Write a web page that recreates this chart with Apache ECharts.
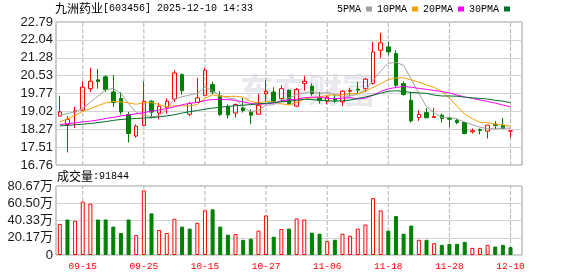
<!DOCTYPE html>
<html><head><meta charset="utf-8">
<script src="https://cdn.jsdelivr.net/npm/echarts@6/dist/echarts.min.js"></script>
<style>html,body{margin:0;padding:0;background:#fff}#c{width:578px;height:276px}</style>
</head><body><div id="c"></div>
<script>
const dates = ['09-10','09-11','09-12','09-15','09-16','09-17','09-18','09-19','09-22','09-23',
  '09-24','09-25','09-26','09-29','09-30','10-09','10-10','10-13','10-14','10-15',
  '10-16','10-17','10-20','10-21','10-22','10-23','10-24','10-27','10-28','10-29',
  '10-30','10-31','11-03','11-04','11-05','11-06','11-07','11-10','11-11','11-12',
  '11-13','11-14','11-17','11-18','11-19','11-20','11-21','11-24','11-25','11-26',
  '11-27','11-28','12-01','12-02','12-03','12-04','12-05','12-08','12-09','12-10'];
const opens = [18.82,18.47,19.00,19.07,19.98,20.35,20.48,19.84,19.56,18.89,
  17.98,18.43,19.45,18.95,19.17,19.54,20.57,18.90,19.40,19.70,
  20.15,19.68,19.21,18.95,19.17,19.00,18.90,19.76,19.84,19.56,
  19.91,19.24,20.20,20.08,19.59,19.45,19.54,19.42,19.87,19.96,
  19.98,20.20,21.60,21.74,21.46,20.19,19.49,18.76,18.97,18.76,
  18.86,18.72,18.64,18.55,18.16,18.25,18.19,18.47,18.44,18.19];
const closes = [19.00,18.69,19.04,20.04,20.29,20.28,19.94,19.40,19.00,18.09,
  18.40,19.45,18.99,19.24,19.45,20.64,19.89,19.35,19.59,20.76,
  19.84,18.89,18.87,19.31,19.06,18.86,19.28,19.87,19.45,19.98,
  19.35,19.94,20.29,19.77,19.48,19.62,19.49,19.87,19.90,19.92,
  20.38,21.53,21.91,21.53,20.12,19.73,18.62,18.90,18.75,18.81,
  18.72,18.69,18.55,18.09,18.21,18.22,18.44,18.43,18.30,18.20];
const lows = [18.82,17.29,18.33,19.05,19.84,19.98,19.84,19.21,18.89,17.71,
  17.92,18.40,18.72,18.68,18.93,19.42,19.73,18.82,19.40,19.68,
  19.73,18.83,18.72,18.76,18.97,18.48,18.90,19.45,19.38,19.42,
  19.31,19.20,19.89,19.68,19.35,19.32,19.38,19.24,19.68,19.77,
  19.84,20.15,21.27,21.39,20.05,19.68,18.55,18.62,18.75,18.76,
  18.55,18.37,18.48,18.05,18.09,18.05,17.88,18.27,18.27,17.92];
const highs = [19.68,18.82,19.21,20.29,20.85,20.81,20.55,20.55,19.84,19.00,
  18.47,20.29,19.49,19.38,19.56,20.76,20.62,19.42,20.43,20.85,
  20.27,19.87,19.31,19.35,19.59,19.11,19.75,20.33,20.04,20.12,
  19.94,20.01,20.52,20.20,19.84,19.68,19.73,19.91,20.01,20.26,
  20.43,21.95,22.33,21.95,21.60,20.29,19.84,19.07,19.17,19.17,
  18.93,18.79,18.72,18.58,18.30,18.30,18.44,18.62,18.75,18.20];
const volumes = [363800,415200,399400,624700,601000,415200,415200,332100,257000,415200,
  233300,755200,486300,292600,257000,423100,332100,308400,375600,521900,
  533800,332100,237200,245100,177900,189800,284700,462600,213500,304500,
  308400,427000,415200,261000,249100,162100,177900,249100,225400,308400,
  355900,664300,521900,284700,454700,249100,344000,177900,177900,138400,
  118600,130500,130500,154200,83000,83000,118600,98900,118600,91844];
const ma5 = [18.86,18.93,19.00,19.15,19.41,19.67,19.92,19.99,19.78,19.34,
  18.97,18.87,18.79,18.83,19.11,19.55,19.64,19.71,19.78,20.05,
  19.89,19.69,19.59,19.54,19.20,19.00,19.08,19.28,19.30,19.49,
  19.59,19.72,19.80,19.87,19.77,19.82,19.73,19.65,19.67,19.76,
  19.91,20.32,20.73,21.05,21.09,20.96,20.38,19.78,19.22,18.96,
  18.76,18.77,18.70,18.57,18.46,18.35,18.30,18.28,18.32,18.31];
const ma10 = [18.58,18.70,18.85,19.02,19.14,19.26,19.38,19.44,19.42,19.38,
  19.32,19.39,19.39,19.31,19.22,19.26,19.26,19.25,19.31,19.58,
  19.72,19.66,19.65,19.66,19.62,19.44,19.38,19.44,19.42,19.34,
  19.29,19.40,19.54,19.59,19.63,19.70,19.72,19.72,19.77,19.76,
  19.87,20.03,20.19,20.36,20.43,20.44,20.35,20.25,20.14,20.03,
  19.86,19.58,19.24,18.90,18.71,18.56,18.54,18.49,18.45,18.39];
const ma20 = [18.47,18.50,18.54,18.58,18.61,18.66,18.72,18.77,18.83,18.87,
  18.92,18.97,19.03,19.08,19.14,19.21,19.30,19.36,19.40,19.48,
  19.52,19.53,19.52,19.48,19.42,19.35,19.32,19.34,19.37,19.46,
  19.51,19.53,19.60,19.62,19.62,19.57,19.55,19.58,19.60,19.55,
  19.58,19.71,19.86,19.97,20.03,20.07,20.04,19.99,19.95,19.90,
  19.86,19.80,19.71,19.63,19.57,19.50,19.44,19.37,19.29,19.21];
const ma30 = [18.41,18.43,18.46,18.48,18.51,18.55,18.59,18.64,18.68,18.70,
  18.72,18.74,18.76,18.79,18.83,18.88,18.95,19.01,19.06,19.11,
  19.16,19.20,19.23,19.26,19.28,19.31,19.34,19.36,19.39,19.43,
  19.44,19.49,19.53,19.52,19.49,19.47,19.45,19.47,19.50,19.56,
  19.63,19.70,19.79,19.87,19.89,19.86,19.82,19.80,19.78,19.71,
  19.67,19.67,19.66,19.62,19.59,19.57,19.54,19.49,19.45,19.39];
const priceTicks = [16.76,17.51,18.27,19.02,19.77,20.53,21.28,22.04,22.79];
const volTicks = [0,201675,403350,605025,806700];
const volTickLabels = ['0','20.17万','40.33万','60.50万','80.67万'];
const dateTickLabels = ['09-15','09-25','10-15','10-27','11-06','11-18','11-28','12-10'];
const maNames = ['5PMA','10PMA','20PMA','30PMA'];

const RED = '#ff0000', GREEN = '#008000';
const isDateTick = (idx, val) => dateTickLabels.indexOf(val !== undefined && val !== null ? val : dates[idx]) >= 0;

const kData = dates.map((d, i) => [opens[i], closes[i], lows[i], highs[i]]);
const volData = volumes.map((v, i) => {
  const up = i === 0 ? closes[i] >= opens[i] : closes[i] >= closes[i - 1];
  return {
    value: v,
    itemStyle: up ? {color: '#ffffff', borderColor: RED, borderWidth: 1}
                  : {color: GREEN, borderColor: GREEN, borderWidth: 1}
  };
});

// vertical dashed guide lines at each labelled date, one small line series per date and panel
const guideSeries = (axisIdx, lo, hi) => dateTickLabels.map(d => ({
  type: 'line', xAxisIndex: axisIdx, yAxisIndex: axisIdx, z: 1, silent: true,
  symbol: 'none', showSymbol: false, animation: false, clip: false,
  data: [[d, lo], [d, hi]],
  lineStyle: {type: 'dashed', color: '#b4b4b4', width: 1},
  emphasis: {disabled: true}, tooltip: {show: false}
}));

const chart = echarts.init(document.getElementById('c'), null, {renderer: 'canvas'});
const labelFont = '"Liberation Sans", "Noto Sans CJK SC", sans-serif';
const monoFont = '"Liberation Mono", monospace';
const cjkFont = '"Noto Sans CJK SC", sans-serif';

chart.setOption({
  animation: false,
  title: [
    {left: 55, top: 2, padding: 0,
     text: '{c|九洲药业}{a|[603456] 2025-12-10 14:33}',
     textStyle: {rich: {
       c: {fontFamily: cjkFont, fontSize: 12, color: '#000', fontWeight: 'normal'},
       a: {fontFamily: monoFont, fontSize: 10, color: '#000', fontWeight: 'normal'}}}},
    {left: 57, top: 170, padding: 0,
     text: '{c|成交量}{a|:' + volumes[volumes.length - 1] + '}',
     textStyle: {rich: {
       c: {fontFamily: cjkFont, fontSize: 12, color: '#000', fontWeight: 'normal'},
       a: {fontFamily: monoFont, fontSize: 10, color: '#000', fontWeight: 'normal'}}}}
  ],
  legend: {
    left: 337, top: 4, padding: 0, align: 'right', icon: 'rect',
    itemWidth: 6, itemHeight: 5, itemGap: 5,
    textStyle: {fontFamily: monoFont, fontSize: 10, color: '#000'},
    data: maNames
  },
  graphic: [{
    type: 'text', left: 240, top: 73, z: 0, silent: true,
    style: {text: '东方财富', fill: '#e8e8ee', font: 'bold 34px "Noto Sans CJK SC"'}
  }],
  grid: [
    {left: 56, top: 22, width: 466, height: 143, show: true, borderColor: '#999', borderWidth: 1},
    {left: 56, top: 186, width: 466, height: 69, show: true, borderColor: '#999', borderWidth: 1}
  ],
  xAxis: [
    {type: 'category', gridIndex: 0, data: dates, max: 60,
     axisLine: {show: false}, axisTick: {show: false}, axisLabel: {show: false},
     splitLine: {show: false}},
    {type: 'category', gridIndex: 1, data: dates, max: 60,
     axisLine: {show: false}, axisTick: {show: false},
     axisLabel: {interval: isDateTick, color: RED, fontFamily: monoFont, fontSize: 9.5, margin: 6},
     splitLine: {show: false}}
  ],
  yAxis: [
    {type: 'value', gridIndex: 0, min: priceTicks[0], max: priceTicks[priceTicks.length - 1],
     axisLine: {show: false}, axisTick: {show: false, customValues: priceTicks},
     axisLabel: {customValues: priceTicks, formatter: v => v.toFixed(2),
       color: '#1a1a1a', fontFamily: labelFont, fontSize: 13, margin: 3},
     splitLine: {show: true, lineStyle: {color: '#d2d2d2', width: 1}}},
    {type: 'value', gridIndex: 1, min: volTicks[0], max: volTicks[volTicks.length - 1],
     interval: volTicks[1] - volTicks[0],
     axisLine: {show: false}, axisTick: {show: false},
     axisLabel: {formatter: (v) => {
         const k = volTicks.findIndex(t => Math.abs(t - v) < 1);
         return k >= 0 ? volTickLabels[k] : '';
       },
       color: '#1a1a1a', fontFamily: labelFont, fontSize: 13, margin: 3},
     splitLine: {show: true, lineStyle: {color: '#d2d2d2', width: 1}}}
  ],
  series: [
    ...guideSeries(0, priceTicks[0], priceTicks[priceTicks.length - 1]),
    ...guideSeries(1, volTicks[0], volTicks[volTicks.length - 1]),
    {type: 'candlestick', xAxisIndex: 0, yAxisIndex: 0, data: kData, barWidth: 4, z: 2,
     itemStyle: {color: 'rgba(255,255,255,0)', color0: GREEN, borderColor: RED, borderColor0: GREEN, borderWidth: 1}},
    {name: maNames[0], type: 'line', xAxisIndex: 0, yAxisIndex: 0, data: ma5, symbol: 'none', z: 3,
     color: '#a0a0a0', lineStyle: {width: 1, color: '#a0a0a0'}},
    {name: maNames[1], type: 'line', xAxisIndex: 0, yAxisIndex: 0, data: ma10, symbol: 'none', z: 3,
     color: '#f4a000', lineStyle: {width: 1, color: '#f4a000'}},
    {name: maNames[2], type: 'line', xAxisIndex: 0, yAxisIndex: 0, data: ma20, symbol: 'none', z: 3,
     color: '#ff00ff', lineStyle: {width: 1, color: '#ff00ff'}},
    {name: maNames[3], type: 'line', xAxisIndex: 0, yAxisIndex: 0, data: ma30, symbol: 'none', z: 3,
     color: '#006e2a', lineStyle: {width: 1, color: '#006e2a'}},
    {type: 'bar', xAxisIndex: 1, yAxisIndex: 1, data: volData, barWidth: 4, z: 2}
  ]
});
</script>
</body></html>
